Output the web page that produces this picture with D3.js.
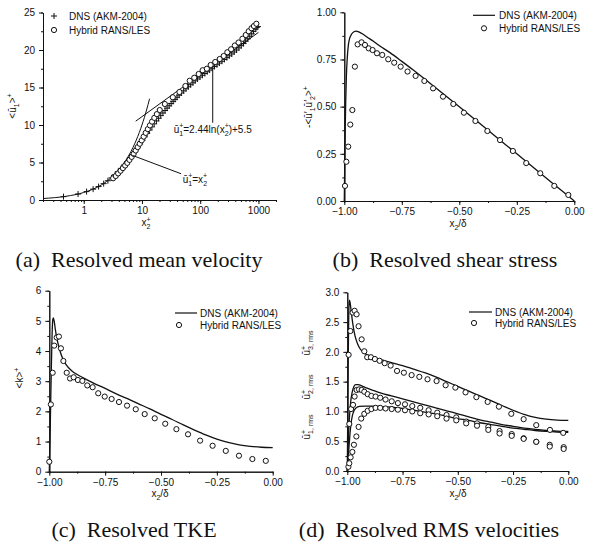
<!DOCTYPE html>
<html><head><meta charset="utf-8">
<script src="https://cdn.jsdelivr.net/npm/d3@7"></script>
<style>
body{margin:0;background:#fff}
svg text{font-family:"Liberation Sans",Arial,sans-serif;fill:#111}
</style></head><body>
<svg id="fig" width="592" height="545"></svg>
<script>
// (a) mean velocity: [x2+, u1+]
var dnsA = [[0.45,0.45],[0.8,0.8],[1.12,1.12],[1.45,1.45],[1.8,1.79],[2.2,2.18],[2.6,2.57],[3.0,2.95],[3.45,3.37],[3.9,3.78],[4.4,4.22],[4.95,4.67],[5.55,5.12],[6.2,5.58],[6.9,6.05],[7.65,6.52],[8.45,7.0],[9.3,7.47],[10.2,7.95],[11.2,8.42],[12.3,8.88],[13.5,9.32],[14.8,9.75],[16.2,10.15],[17.7,10.54],[19.3,10.9],[21,11.25],[22.9,11.6],[24.9,11.93],[27,12.25],[29.3,12.56],[31.7,12.86],[34.3,13.15],[37,13.42],[40,13.7],[43.5,13.98],[47.5,14.27],[52,14.55],[57,14.83],[62.5,15.1],[68.5,15.37],[75,15.63],[82,15.89],[90,16.14],[99,16.39],[109,16.63],[120,16.87],[132,17.1],[145,17.33],[160,17.57],[176,17.8],[194,18.03],[214,18.26],[236,18.5],[260,18.74],[287,18.98],[316,19.22],[348,19.47],[383,19.73],[421,20.0],[462,20.28],[506,20.57],[553,20.87],[603,21.18],[655,21.5],[709,21.83],[765,22.16],[822,22.48],[880,22.78],[935,23.0],[980,23.12]];
var lesA = [[3.2,2.9],[3.55,3.2],[3.9,3.55],[4.3,3.9],[4.7,4.25],[5.15,4.6],[5.6,4.95],[6.1,5.35],[6.65,5.75],[7.2,6.15],[7.8,6.6],[8.45,7.05],[9.15,7.5],[9.9,7.95],[10.7,8.45],[11.6,8.95],[12.6,9.45],[13.7,9.95],[14.9,10.45],[16.3,10.95],[18,11.45],[20.2,12.0],[24.7,12.8],[33.8,13.7],[44,14.4],[55.7,15.2],[66,15.9],[79,16.3],[94,16.8],[110,17.3],[130,17.5],[151,18.0],[181,18.4],[216,18.8],[253,19.2],[292,19.7],[339,20.1],[393,20.6],[455,21.0],[530,21.5],[605,22.0],[680,22.5],[760,22.9],[835,23.2],[920,23.5]];
var linLaw = [[0.2,0.2],[0.5,0.5],[1,1],[2,2],[3,3],[4,4],[5,5],[6,6],[7,7],[8,8],[9,9],[10,10],[11,11],[12,12],[13.5,13.5]];
var logLaw = [[7.8,10.51],[1000,22.35]];

// (b) shear stress: [x2/delta, value]
var dnsB = [[-1,0],[-0.998,0.2],[-0.996,0.38],[-0.994,0.52],[-0.991,0.66],[-0.987,0.76],[-0.982,0.83],[-0.976,0.865],[-0.968,0.885],[-0.958,0.897],[-0.948,0.9],[-0.935,0.895],[-0.92,0.885],[-0.9,0.868],[-0.875,0.848],[-0.85,0.825],[-0.8,0.785],[-0.75,0.74],[-0.7,0.694],[-0.6,0.597],[-0.5,0.499],[-0.4,0.4],[-0.3,0.3],[-0.2,0.2],[-0.1,0.1],[0,0]];
var lesB = [[-0.997,0.08],[-0.991,0.208],[-0.983,0.288],[-0.974,0.405],[-0.965,0.482],[-0.954,0.712],[-0.942,0.83],[-0.925,0.841],[-0.91,0.827],[-0.894,0.809],[-0.877,0.8],[-0.858,0.783],[-0.835,0.774],[-0.809,0.751],[-0.783,0.733],[-0.755,0.712],[-0.725,0.686],[-0.69,0.663],[-0.652,0.636],[-0.614,0.597],[-0.571,0.553],[-0.526,0.514],[-0.48,0.468],[-0.43,0.424],[-0.378,0.371],[-0.323,0.323],[-0.267,0.265],[-0.209,0.201],[-0.148,0.147],[-0.087,0.08],[-0.026,0.032]];

// (c) TKE
var dnsC = [[-1,0],[-0.997,1.0],[-0.994,2.2],[-0.991,3.4],[-0.988,4.4],[-0.985,5.0],[-0.982,5.1],[-0.978,4.98],[-0.973,4.72],[-0.967,4.45],[-0.96,4.22],[-0.95,3.95],[-0.94,3.75],[-0.925,3.55],[-0.9,3.35],[-0.875,3.22],[-0.85,3.12],[-0.8,2.93],[-0.75,2.76],[-0.7,2.58],[-0.65,2.42],[-0.6,2.25],[-0.55,2.08],[-0.5,1.9],[-0.45,1.73],[-0.4,1.55],[-0.35,1.38],[-0.3,1.22],[-0.25,1.08],[-0.2,0.97],[-0.15,0.89],[-0.1,0.84],[-0.05,0.81],[0,0.8]];
var lesC = [[-1,0.33],[-0.993,2.23],[-0.985,3.28],[-0.978,4.18],[-0.967,4.45],[-0.957,4.48],[-0.948,4.09],[-0.937,3.67],[-0.922,3.28],[-0.907,3.09],[-0.891,3.13],[-0.872,3.04],[-0.852,3.01],[-0.83,2.86],[-0.806,2.8],[-0.781,2.6],[-0.752,2.49],[-0.721,2.41],[-0.688,2.31],[-0.652,2.19],[-0.613,2.07],[-0.573,1.91],[-0.528,1.77],[-0.481,1.59],[-0.431,1.41],[-0.379,1.24],[-0.325,1.03],[-0.269,0.86],[-0.21,0.69],[-0.151,0.53],[-0.091,0.42],[-0.031,0.36]];

// (d) RMS velocities
var dnsD3 = [[-1,0],[-0.998,0.9],[-0.996,1.8],[-0.994,2.45],[-0.992,2.8],[-0.99,2.87],[-0.987,2.82],[-0.983,2.7],[-0.978,2.55],[-0.972,2.4],[-0.965,2.27],[-0.955,2.15],[-0.945,2.07],[-0.93,2.0],[-0.91,1.95],[-0.89,1.92],[-0.86,1.88],[-0.83,1.85],[-0.8,1.82],[-0.75,1.77],[-0.7,1.71],[-0.65,1.65],[-0.6,1.58],[-0.55,1.5],[-0.5,1.42],[-0.45,1.34],[-0.4,1.26],[-0.35,1.18],[-0.3,1.1],[-0.25,1.02],[-0.2,0.95],[-0.15,0.9],[-0.1,0.87],[-0.05,0.855],[0,0.85]];
var dnsD2 = [[-1,0],[-0.997,0.35],[-0.994,0.65],[-0.99,0.92],[-0.985,1.15],[-0.978,1.32],[-0.97,1.42],[-0.962,1.45],[-0.95,1.45],[-0.935,1.43],[-0.91,1.39],[-0.88,1.35],[-0.85,1.31],[-0.8,1.26],[-0.75,1.21],[-0.7,1.16],[-0.65,1.11],[-0.6,1.06],[-0.55,1.01],[-0.5,0.96],[-0.45,0.91],[-0.4,0.86],[-0.35,0.82],[-0.3,0.78],[-0.25,0.75],[-0.2,0.72],[-0.15,0.7],[-0.1,0.68],[-0.05,0.67],[0,0.665]];
var dnsD1 = [[-1,0],[-0.996,0.2],[-0.992,0.42],[-0.988,0.62],[-0.983,0.8],[-0.977,0.93],[-0.97,1.01],[-0.96,1.06],[-0.945,1.085],[-0.92,1.09],[-0.89,1.09],[-0.85,1.085],[-0.8,1.07],[-0.75,1.05],[-0.7,1.02],[-0.65,0.99],[-0.6,0.96],[-0.55,0.92],[-0.5,0.88],[-0.45,0.85],[-0.4,0.81],[-0.35,0.78],[-0.3,0.75],[-0.25,0.72],[-0.2,0.7],[-0.15,0.68],[-0.1,0.665],[-0.05,0.655],[0,0.65]];
var lesD3 = [[-0.994,1.95],[-0.986,2.35],[-0.976,2.66],[-0.967,2.69],[-0.958,2.63],[-0.949,2.43],[-0.935,2.21],[-0.923,2.01],[-0.91,1.91],[-0.893,1.91],[-0.875,1.88],[-0.854,1.85],[-0.831,1.81],[-0.804,1.77],[-0.775,1.68],[-0.744,1.65],[-0.709,1.61],[-0.674,1.58],[-0.637,1.54],[-0.596,1.51],[-0.555,1.44],[-0.511,1.4],[-0.465,1.32],[-0.416,1.24],[-0.365,1.16],[-0.314,1.08],[-0.258,0.96],[-0.202,0.87],[-0.145,0.77],[-0.083,0.69],[-0.023,0.64]];
var lesD2 = [[-0.991,0.79],[-0.983,1.04],[-0.974,1.11],[-0.967,1.25],[-0.958,1.36],[-0.947,1.37],[-0.935,1.36],[-0.923,1.33],[-0.908,1.29],[-0.891,1.26],[-0.872,1.25],[-0.851,1.23],[-0.827,1.2],[-0.799,1.17],[-0.771,1.14],[-0.739,1.12],[-0.706,1.09],[-0.67,1.06],[-0.632,1.02],[-0.593,0.98],[-0.551,0.94],[-0.507,0.9],[-0.462,0.83],[-0.413,0.8],[-0.362,0.74],[-0.311,0.67],[-0.256,0.62],[-0.202,0.55],[-0.145,0.49],[-0.084,0.44],[-0.021,0.4]];
var lesD1 = [[-0.995,0.07],[-0.991,0.13],[-0.985,0.23],[-0.977,0.32],[-0.97,0.44],[-0.959,0.58],[-0.949,0.74],[-0.937,0.88],[-0.923,0.96],[-0.908,1.01],[-0.891,1.04],[-0.872,1.06],[-0.851,1.06],[-0.827,1.05],[-0.799,1.04],[-0.771,1.03],[-0.739,1.02],[-0.706,1.0],[-0.67,0.97],[-0.632,0.95],[-0.593,0.92],[-0.551,0.88],[-0.507,0.85],[-0.462,0.8],[-0.413,0.76],[-0.362,0.69],[-0.311,0.63],[-0.256,0.59],[-0.202,0.54],[-0.145,0.49],[-0.084,0.41],[-0.021,0.37]];

var svg = d3.select("#fig");
var FS = 10;

function styleAxis(g) {
  g.attr("font-family", "Liberation Sans, Arial, sans-serif").attr("font-size", FS);
  g.selectAll("path, line").attr("stroke", "#111");
}

function axes(x, y, xMaj, xMin, yMaj, yMin, xf, yf) {
  var y0 = y.range()[0], x0 = x.range()[0];
  svg.append("g").attr("transform", "translate(0," + y0 + ")")
    .call(d3.axisBottom(x).tickValues(xMin).tickSize(2).tickFormat("").tickSizeOuter(0)).call(styleAxis);
  svg.append("g").attr("transform", "translate(0," + y0 + ")")
    .call(d3.axisBottom(x).tickValues(xMaj).tickSize(4).tickPadding(3).tickFormat(xf).tickSizeOuter(0)).call(styleAxis);
  svg.append("g").attr("transform", "translate(" + x0 + ",0)")
    .call(d3.axisLeft(y).tickValues(yMin).tickSize(2).tickFormat("").tickSizeOuter(0)).call(styleAxis);
  svg.append("g").attr("transform", "translate(" + x0 + ",0)")
    .call(d3.axisLeft(y).tickValues(yMaj).tickSize(4).tickPadding(4).tickFormat(yf).tickSizeOuter(0)).call(styleAxis);
}

// text with sub/superscripts
function rich(x, y, parts, rot, anchor) {
  var t = svg.append("text").attr("font-size", FS).attr("text-anchor", anchor || "middle")
    .attr("transform", "translate(" + x + "," + y + ")" + (rot ? " rotate(-90)" : ""));
  var cur = 0;
  parts.forEach(function (p) {
    var off = p.s === "sub" ? FS * 0.3 : p.s === "sup" ? -FS * 0.45 : 0;
    var ts = t.append("tspan").attr("dy", off - cur).text(p.t);
    if (p.s) ts.attr("font-size", FS * 0.7);
    if (p.dx) ts.attr("dx", p.dx);
    cur = off;
  });
  return t;
}

function line(x, y, data, w, curve) {
  svg.append("path").datum(data)
    .attr("fill", "none").attr("stroke", "#111").attr("stroke-width", w)
    .attr("d", d3.line().x(function (d) { return x(d[0]); }).y(function (d) { return y(d[1]); }).curve(curve || d3.curveLinear));
}

function circles(x, y, data) {
  svg.append("g").selectAll("circle").data(data).enter().append("circle")
    .attr("cx", function (d) { return x(d[0]); })
    .attr("cy", function (d) { return y(d[1]); })
    .attr("r", 2.6).attr("fill", "#fff").attr("stroke", "#111").attr("stroke-width", 1);
}

function legend(lx0, lx1, ly, cx, ly2, tx, plus) {
  if (plus) {
    svg.append("path").attr("d", "M" + (cx - 3) + "," + ly + "H" + (cx + 3) + "M" + cx + "," + (ly - 3) + "V" + (ly + 3)).attr("stroke", "#111");
  } else {
    svg.append("line").attr("x1", lx0).attr("x2", lx1).attr("y1", ly).attr("y2", ly).attr("stroke", "#111").attr("stroke-width", 1.2);
  }
  svg.append("circle").attr("cx", cx).attr("cy", ly2).attr("r", 2.6).attr("fill", "#fff").attr("stroke", "#111");
  svg.append("text").attr("x", tx).attr("y", ly).attr("dy", "0.35em").attr("font-size", FS).text("DNS (AKM-2004)");
  svg.append("text").attr("x", tx).attr("y", ly2).attr("dy", "0.35em").attr("font-size", FS).text("Hybrid RANS/LES");
}

var f2 = d3.format(".2f"), f1 = d3.format(".1f"), f0 = d3.format("d");
var xTicks = [-1, -0.75, -0.5, -0.25, 0];
var xMinor = d3.range(-1, 0.001, 0.125);

// ---- (a) ----
var xa = d3.scaleLog().domain([0.2, 2000]).range([43, 276]);
var ya = d3.scaleLinear().domain([0, 25]).range([200, 12.5]);
var logMinor = xa.ticks().filter(function (v) { return v >= 0.2 && v <= 2000; });
axes(xa, ya, [1, 10, 100, 1000], logMinor, [0, 5, 10, 15, 20, 25], d3.range(0, 25.1, 2.5), f0, f0);
line(xa, ya, linLaw, 1, d3.curveMonotoneX);
line(xa, ya, logLaw, 1);
svg.append("g").selectAll("path").data(dnsA).enter().append("path")
  .attr("d", function (d) { var px = xa(d[0]), py = ya(d[1]); return "M" + (px - 3) + "," + py + "H" + (px + 3) + "M" + px + "," + (py - 3) + "V" + (py + 3); })
  .attr("stroke", "#111").attr("stroke-width", 1);
circles(xa, ya, lesA);
// annotations
svg.append("line").attr("x1", xa(164)).attr("x2", xa(164)).attr("y1", ya(17.7)).attr("y2", ya(10.3)).attr("stroke", "#111");
rich(xa(164), ya(9.0), [{t: "ū"}, {t: "+", s: "sup"}, {t: "1", s: "sub", dx: -4}, {t: "=2.44ln(x"}, {t: "+", s: "sup"}, {t: "2", s: "sub", dx: -4}, {t: ")+5.5"}]);
svg.append("line").attr("x1", xa(6.85)).attr("x2", xa(47)).attr("y1", ya(5.95)).attr("y2", ya(3.5)).attr("stroke", "#111");
rich(xa(50), ya(2.3), [{t: "ū"}, {t: "+", s: "sup"}, {t: "1", s: "sub", dx: -4}, {t: "=x"}, {t: "+", s: "sup"}, {t: "2", s: "sub", dx: -4}], false, "start");
legend(0, 0, 16, 54, 30, 69, true);
rich(16, 106, [{t: "<ū"}, {t: "1", s: "sub"}, {t: ">"}, {t: "+", s: "sup"}], true);
rich(146, 226, [{t: "x"}, {t: "+", s: "sup"}, {t: "2", s: "sub", dx: -4}]);

// ---- (b) ----
var xb = d3.scaleLinear().domain([-1, 0]).range([344.3, 574.3]);
var yb = d3.scaleLinear().domain([0, 1]).range([201, 12.3]);
axes(xb, yb, xTicks, xMinor, [0, 0.25, 0.5, 0.75, 1], d3.range(0, 1.001, 0.125), f2, f2);
line(xb, yb, dnsB, 1.3, d3.curveMonotoneX);
circles(xb, yb, lesB);
legend(473, 495, 15.3, 484, 28.3, 499);
rich(312, 107, [{t: "-<ū′"}, {t: "1", s: "sub"}, {t: "ū′"}, {t: "2", s: "sub"}, {t: ">"}, {t: "+", s: "sup"}], true);
rich(458, 227, [{t: "x"}, {t: "2", s: "sub"}, {t: "/δ"}]);

// ---- (c) ----
var xc = d3.scaleLinear().domain([-1, 0]).range([49.3, 272.7]);
var yc = d3.scaleLinear().domain([0, 6]).range([471.7, 290.7]);
axes(xc, yc, xTicks, xMinor, [0, 1, 2, 3, 4, 5, 6], d3.range(0, 6.01, 0.5), f2, f0);
line(xc, yc, dnsC, 1.3, d3.curveMonotoneX);
circles(xc, yc, lesC);
legend(175, 197, 313, 179, 325, 200);
rich(23, 378, [{t: "<k>"}, {t: "+", s: "sup"}], true);
rich(160, 497, [{t: "x"}, {t: "2", s: "sub"}, {t: "/δ"}]);

// ---- (d) ----
var xd = d3.scaleLinear().domain([-1, 0]).range([347.3, 568.3]);
var yd = d3.scaleLinear().domain([0, 3]).range([471, 292.3]);
axes(xd, yd, xTicks, xMinor, [0, 0.5, 1, 1.5, 2, 2.5, 3], d3.range(0, 3.01, 0.25), f2, f1);
line(xd, yd, dnsD3, 1.3, d3.curveMonotoneX);
line(xd, yd, dnsD2, 1.3, d3.curveMonotoneX);
line(xd, yd, dnsD1, 1.3, d3.curveMonotoneX);
circles(xd, yd, lesD3);
circles(xd, yd, lesD2);
circles(xd, yd, lesD1);
legend(469, 492, 312, 474, 323, 495);
[["3", 343], ["2", 387], ["1", 427]].forEach(function (l) {
  rich(310, l[1], [{t: "ū"}, {t: "+", s: "sup"}, {t: l[0] + ", rms", s: "sub", dx: -4}], true);
});
rich(458, 497, [{t: "x"}, {t: "2", s: "sub"}, {t: "/δ"}]);

// captions
var caps = [["(a)\u2002Resolved mean velocity", 139, 267], ["(b)\u2002Resolved shear stress", 445, 267],
            ["(c)\u2002Resolved TKE", 134, 537], ["(d)\u2002Resolved RMS velocities", 429, 537]];
svg.selectAll("text.cap").data(caps).enter().append("text").attr("class", "cap")
  .attr("x", function (d) { return d[1]; }).attr("y", function (d) { return d[2]; })
  .attr("text-anchor", "middle").attr("font-size", 22)
  .style("font-family", "'Liberation Serif', 'Times New Roman', serif")
  .text(function (d) { return d[0]; });
</script>
</body></html>
